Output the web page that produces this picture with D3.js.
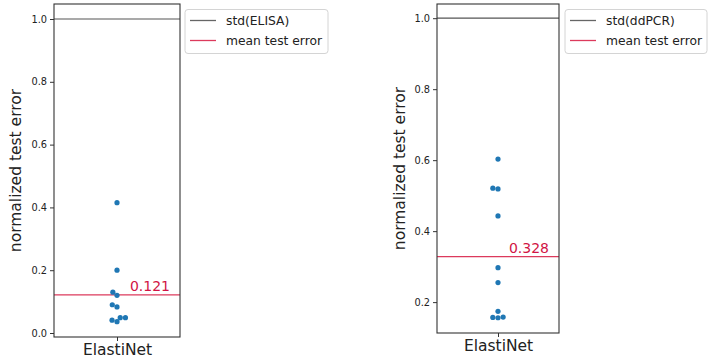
<!DOCTYPE html>
<html>
<head>
<meta charset="utf-8">
<script src="https://cdn.jsdelivr.net/npm/d3@7"></script>
<style>
  body { margin: 0; background: #fff; }
  svg { display: block; font-family: "DejaVu Sans", sans-serif; }
</style>
</head>
<body>
<div id="chart"></div>
<script>
// Swarm plots of normalized test error, ELISA vs ddPCR

const width = 709,
    height = 362;

const categories = ["ElastiNet"];

// test errors
const elisaErrors = [0.415, 0.200, 0.130, 0.120, 0.090, 0.083, 0.041, 0.036, 0.049, 0.049];
const ddpcrErrors = [0.603, 0.519, 0.521, 0.443, 0.297, 0.255, 0.174, 0.157, 0.156, 0.158];

const elisaTicks = [0.0, 0.2, 0.4, 0.6, 0.8, 1.0];
const ddpcrTicks = [0.2, 0.4, 0.6, 0.8, 1.0];

const stdValue = 1.0;
const elisaLegend = ["std(ELISA)", "mean test error"];
const ddpcrLegend = ["std(ddPCR)", "mean test error"];

const svg = d3.select("#chart")
    .append("svg")
    .attr("width", width)
    .attr("height", height);

// seaborn-ish beeswarm: place each point as close to centre as possible
function swarm(values, y, r) {
    const d = 2 * r;
    const sorted = values.map((v, i) => ({ v, i, py: y(v) }))
        .sort((a, b) => a.v - b.v);
    const placed = [];
    sorted.forEach(p => {
        const near = placed.filter(q => Math.abs(q.py - p.py) < d);
        const cands = [0];
        near.forEach(q => {
            const dx = Math.sqrt(d * d - (q.py - p.py) ** 2);
            cands.push(q.dx - dx, q.dx + dx);
        });
        const ok = cands
            .map((c, k) => ({ c, k }))
            .sort((a, b) => Math.abs(a.c) - Math.abs(b.c) || a.k - b.k)
            .find(({ c }) => near.every(q => Math.hypot(q.dx - c, q.py - p.py) >= d - 0.01));
        p.dx = ok ? ok.c : 0;
        placed.push(p);
    });
    return placed;
}

function drawPanel(cfg) {
    const g = svg.append("g");

    const y = d3.scaleLinear()
        .domain(cfg.domain)
        .range([cfg.bottom, cfg.top]);

    const x = d3.scalePoint()
        .domain(categories)
        .range([cfg.left, cfg.right])
        .padding(0.5);

    // y axis
    const yAxis = g.append("g")
        .attr("transform", `translate(${cfg.left},0)`)
        .call(d3.axisLeft(y).tickValues(cfg.ticks).tickFormat(d3.format(".1f")).tickSize(4).tickPadding(3));
    yAxis.select(".domain").remove();
    yAxis.selectAll("line").attr("stroke", "#333");
    yAxis.selectAll("text")
        .attr("font-family", "DejaVu Sans")
        .attr("font-size", 9.8)
        .attr("fill", "#222");

    // x axis
    const xAxis = g.append("g")
        .attr("transform", `translate(0,${cfg.bottom})`)
        .call(d3.axisBottom(x).tickSize(4).tickPadding(3));
    xAxis.select(".domain").remove();
    xAxis.selectAll("line").attr("stroke", "#333");
    xAxis.selectAll("text")
        .attr("font-family", "DejaVu Sans")
        .attr("font-size", 15.5)
        .attr("fill", "#222");

    // std line
    g.append("line")
        .attr("x1", cfg.left).attr("x2", cfg.right)
        .attr("y1", y(stdValue)).attr("y2", y(stdValue))
        .attr("stroke", "#555")
        .attr("stroke-width", 1.2);

    // mean line + label
    const mean = d3.mean(cfg.values);
    g.append("line")
        .attr("x1", cfg.left).attr("x2", cfg.right)
        .attr("y1", y(mean)).attr("y2", y(mean))
        .attr("stroke", "#dc3a5c")
        .attr("stroke-width", 1.3);

    g.append("text")
        .attr("x", cfg.right - 10)
        .attr("y", y(mean) - 4)
        .attr("text-anchor", "end")
        .attr("font-size", 14)
        .attr("fill", "#d11545")
        .text(mean.toFixed(3));

    // points
    const r = 2.6;
    const cx = x(categories[0]);
    g.append("g")
        .selectAll("circle")
        .data(swarm(cfg.values, y, r))
        .join("circle")
        .attr("cx", d => cx + d.dx)
        .attr("cy", d => d.py)
        .attr("r", r)
        .attr("fill", "#1f77b4");

    // frame
    g.append("rect")
        .attr("x", cfg.left).attr("y", cfg.top)
        .attr("width", cfg.right - cfg.left)
        .attr("height", cfg.bottom - cfg.top)
        .attr("fill", "none")
        .attr("stroke", "#333")
        .attr("stroke-width", 1.1);

    // y label
    g.append("text")
        .attr("transform", `translate(${cfg.labelX},${(cfg.top + cfg.bottom) / 2}) rotate(-90)`)
        .attr("text-anchor", "middle")
        .attr("font-size", 15.5)
        .attr("fill", "#222")
        .text("normalized test error");

    // legend
    const lg = g.append("g")
        .attr("transform", `translate(${cfg.legendX},9.5)`);
    lg.append("rect")
        .attr("width", cfg.legendW)
        .attr("height", 44)
        .attr("rx", 3)
        .attr("fill", "#fff")
        .attr("stroke", "#d4d4d4");
    const colors = ["#666", "#dc3a5c"];
    cfg.legend.forEach((lab, i) => {
        lg.append("line")
            .attr("x1", 5).attr("x2", 31)
            .attr("y1", 11 + i * 20).attr("y2", 11 + i * 20)
            .attr("stroke", colors[i])
            .attr("stroke-width", 1.3);
        lg.append("text")
            .attr("x", 41)
            .attr("y", 15.5 + i * 20)
            .attr("font-size", 12.3)
            .attr("fill", "#222")
            .text(lab);
    });
}

drawPanel({
    values: elisaErrors,
    ticks: elisaTicks,
    legend: elisaLegend,
    domain: [-0.0127, 1.0478],
    left: 54, right: 180, top: 4, bottom: 337,
    labelX: 21,
    legendX: 185, legendW: 143
});

drawPanel({
    values: ddpcrErrors,
    ticks: ddpcrTicks,
    legend: ddpcrLegend,
    domain: [0.113, 1.040],
    left: 437, right: 559, top: 4, bottom: 333,
    labelX: 405,
    legendX: 565, legendW: 142
});
</script>
</body>
</html>
